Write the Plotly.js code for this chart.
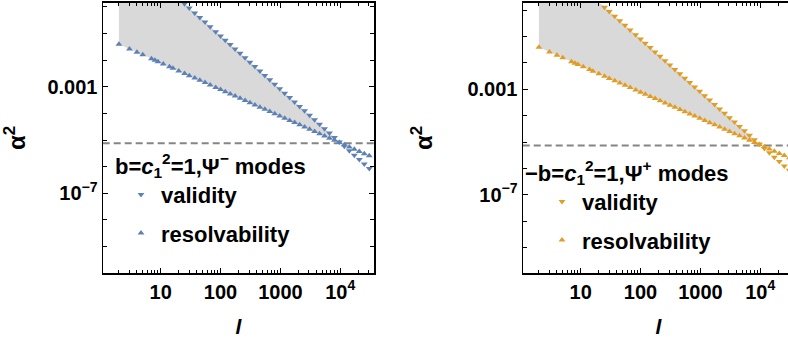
<!DOCTYPE html>
<html><head><meta charset="utf-8">
<script src="https://cdn.plot.ly/plotly-3.0.1.min.js"></script>
<style>html,body{margin:0;padding:0;overflow:hidden;background:#fff}</style>
</head><body><div id="chart" style="width:800px;height:341px"></div>
<script>
// ---- data ----
const ell = [2,3,4,5,7,8,9,11,14,16,20,25,30,37,45,55,67,83,100,120,145,175,212,257,310,375,455,550,665,805,975,1180,1430,1730,2100,2540,3080,3730,4520,5470,6620,8020,9700,11750,14230,17230,20870,25270,30600];
const ellValid = [25,30,37,45,55,67,83,100,120,145,175,212,257,310,375,455,550,665,805,975,1180,1430,1730,2100,2540,3080,3730,4520,5470,6620,8020,9700,11750,14230,17230,20870,25270,30600];

const resolvLeft = [3.89e-2,2.59e-2,1.95e-2,1.56e-2,1.11e-2,9.73e-3,8.65e-3,7.08e-3,5.56e-3,4.86e-3,3.89e-3,3.11e-3,2.59e-3,2.10e-3,1.73e-3,1.42e-3,1.16e-3,9.38e-4,7.78e-4,6.49e-4,5.37e-4,4.45e-4,3.67e-4,3.03e-4,2.51e-4,2.07e-4,1.71e-4,1.42e-4,1.17e-4,9.66e-5,7.98e-5,6.59e-5,5.44e-5,4.50e-5,3.71e-5,3.06e-5,2.52e-5,2.08e-5,1.72e-5,1.42e-5,1.17e-5,9.70e-6,8.02e-6,6.62e-6,5.47e-6,4.52e-6,3.73e-6,3.08e-6,2.54e-6];
const validLeft = [1.28,0.887,0.583,0.394,0.264,0.178,0.116,7.98e-2,5.55e-2,3.80e-2,2.61e-2,1.78e-2,1.21e-2,8.32e-3,5.68e-3,3.85e-3,2.64e-3,1.80e-3,1.23e-3,8.39e-4,5.73e-4,3.91e-4,2.67e-4,1.81e-4,1.24e-4,8.39e-5,5.73e-5,3.91e-5,2.67e-5,1.82e-5,1.24e-5,8.47e-6,5.78e-6,3.94e-6,2.69e-6,1.84e-6,1.25e-6,8.51e-7];

const resolvRight = [3.89e-2,2.59e-2,1.95e-2,1.56e-2,1.11e-2,9.73e-3,8.65e-3,7.08e-3,5.56e-3,4.86e-3,3.89e-3,3.11e-3,2.59e-3,2.10e-3,1.73e-3,1.42e-3,1.16e-3,9.38e-4,7.78e-4,6.49e-4,5.37e-4,4.45e-4,3.67e-4,3.03e-4,2.51e-4,2.07e-4,1.71e-4,1.42e-4,1.17e-4,9.66e-5,7.98e-5,6.59e-5,5.44e-5,4.50e-5,3.71e-5,3.06e-5,2.52e-5,2.08e-5,1.72e-5,1.42e-5,1.17e-5,9.70e-6,8.02e-6,6.62e-6,5.47e-6,4.52e-6,3.73e-6,3.08e-6,2.54e-6];
const validRight = [1.28,0.887,0.583,0.394,0.264,0.178,0.116,7.98e-2,5.55e-2,3.80e-2,2.61e-2,1.78e-2,1.21e-2,8.32e-3,5.68e-3,3.85e-3,2.64e-3,1.80e-3,1.23e-3,8.39e-4,5.73e-4,3.91e-4,2.67e-4,1.81e-4,1.24e-4,8.39e-5,5.73e-5,3.91e-5,2.67e-5,1.82e-5,1.24e-5,8.47e-6,5.78e-6,3.94e-6,2.69e-6,1.84e-6,1.25e-6,8.51e-7];

const threshold = 7.5e-6;   // dashed horizontal line
const seriesNames = ['validity', 'resolvability'];
const legendTitles = ['b=<i>c</i><sub>1</sub><sup>2</sup>=1,Ψ<sup>−</sup> modes', '−b=<i>c</i><sub>1</sub><sup>2</sup>=1,Ψ<sup>+</sup> modes'];
const xTitle = '<i>l</i>';
const yTitle = '\u00a0\u00a0\u00a0\u00a0α<sup>2</sup>';

const xTickVals = [10, 100, 1000, 10000];
const xTickText = ['10', '100', '1000', '10<sup>4</sup>'];
const xMinorVals = [2,3,4,5,6,7,8,9,20,30,40,50,60,70,80,90,200,300,400,500,600,700,800,900,2000,3000,4000,5000,6000,7000,8000,9000,20000,30000,40000];
const yTickVals = [1e-3, 1e-7];
const yTickText = ['0.001', '10<sup>−7</sup>'];
const yMinorVals = [1, 1e-1, 1e-2, 1e-4, 1e-5, 1e-6, 1e-8, 1e-9, 1e-10];

// ---- styling ----
const FONT = 'Liberation Sans, Arial, Helvetica, sans-serif';
const BLUE = '#5E81B5', ORANGE = '#E19C24', FILL = '#d9d9d9';
const W = 800, H = 341;
const xRange = [0.03, 4.57];
const yRangeLeft = [-10, 0.15];
const yRangeRight = [-9.97, 0.28];

function fillPolygon(resolv, valid, yTopLog) {
  const lg = Math.log10;
  const off = ell.indexOf(ellValid[0]);
  const s = (lg(valid[1]) - lg(valid[0])) / (lg(ellValid[1]) - lg(ellValid[0]));
  const xTop = lg(ellValid[0]) + (yTopLog - lg(valid[0])) / s;
  const xs = [ell[0], Math.pow(10, xTop)], ys = [Math.pow(10, yTopLog), Math.pow(10, yTopLog)];
  let crossIdx = -1;
  for (let i = 0; i < ellValid.length; i++) {
    const r = resolv[i + off];
    if (valid[i] >= r) { xs.push(ellValid[i]); ys.push(valid[i]); }
    else {
      const xa = lg(ellValid[i-1]), xb = lg(ellValid[i]);
      const da = lg(valid[i-1]) - lg(resolv[i-1+off]), db = lg(valid[i]) - lg(r);
      const t = da / (da - db);
      const xc = xa + t * (xb - xa);
      const yc = lg(resolv[i-1+off]) + t * (lg(r) - lg(resolv[i-1+off]));
      xs.push(Math.pow(10, xc)); ys.push(Math.pow(10, yc));
      crossIdx = i + off - 1;
      break;
    }
  }
  for (let j = crossIdx; j >= 0; j--) { xs.push(ell[j]); ys.push(resolv[j]); }
  return {xs, ys};
}

const fl = fillPolygon(resolvLeft, validLeft, yRangeLeft[1]);
const fr = fillPolygon(resolvRight, validRight, yRangeRight[1]);

const mk = (sym, color) => ({symbol: sym, size: 6, color: color, line: {width: 0}});

const traces = [
  {x: fl.xs, y: fl.ys, xaxis: 'x', yaxis: 'y', type: 'scatter', mode: 'lines', fill: 'toself', fillcolor: FILL, line: {width: 0}, showlegend: false, hoverinfo: 'skip'},
  {x: fr.xs, y: fr.ys, xaxis: 'x2', yaxis: 'y2', type: 'scatter', mode: 'lines', fill: 'toself', fillcolor: FILL, line: {width: 0}, showlegend: false, hoverinfo: 'skip'},
  {x: ellValid, y: validLeft, xaxis: 'x', yaxis: 'y', type: 'scatter', mode: 'markers', name: seriesNames[0], marker: mk('triangle-down', BLUE), legend: 'legend', legendgroup: 'a1'},
  {x: ell, y: resolvLeft, xaxis: 'x', yaxis: 'y', type: 'scatter', mode: 'markers', name: seriesNames[1], marker: mk('triangle-up', BLUE), legend: 'legend', legendgroup: 'a2'},
  {x: ellValid, y: validRight, xaxis: 'x2', yaxis: 'y2', type: 'scatter', mode: 'markers', name: seriesNames[0], marker: mk('triangle-down', ORANGE), legend: 'legend2', legendgroup: 'b1'},
  {x: ell, y: resolvRight, xaxis: 'x2', yaxis: 'y2', type: 'scatter', mode: 'markers', name: seriesNames[1], marker: mk('triangle-up', ORANGE), legend: 'legend2', legendgroup: 'b2'}
];

const tickFont = {family: FONT, size: 20, weight: 'bold', color: '#000'};
const xTitleFont = {family: FONT, size: 21, weight: 'bold', color: '#000'};
const yTitleFont = {family: FONT, size: 24, weight: 'bold', color: '#000'};
const legFont = {family: FONT, size: 22, weight: 'bold', color: '#000'};

function xAxis(domain, anchor) {
  return {type: 'log', domain: domain, anchor: anchor, range: xRange, tickmode: 'array', tickvals: xTickVals, ticktext: xTickText,
    ticks: 'inside', ticklen: 5, tickwidth: 1, tickcolor: '#000', showline: true, linecolor: '#000', linewidth: 1.2, mirror: 'ticks',
    showgrid: false, zeroline: false, tickfont: tickFont,
    minor: {tickmode: 'array', tickvals: xMinorVals, ticks: 'inside', ticklen: 3, tickwidth: 1, tickcolor: '#000', showgrid: false},
    title: {text: xTitle, font: xTitleFont, standoff: 17}};
}
function yAxis(domain, anchor, range) {
  return {type: 'log', domain: domain, anchor: anchor, range: range, tickmode: 'array', tickvals: yTickVals, ticktext: yTickText,
    ticks: 'inside', ticklen: 5, tickwidth: 1, tickcolor: '#000', showline: true, linecolor: '#000', linewidth: 1.2, mirror: 'ticks',
    showgrid: false, zeroline: false, tickfont: tickFont,
    minor: {tickmode: 'array', tickvals: yMinorVals, ticks: 'inside', ticklen: 4, tickwidth: 1, tickcolor: '#000', showgrid: false},
    title: {text: yTitle, font: yTitleFont, standoff: 28}};
}
const yDom = [(H - 273.3) / H, (H - 2.7) / H];

function legendCfg(x, y, title, indent) {
  return {x: x, y: y, xref: 'paper', yref: 'paper', xanchor: 'left', yanchor: 'top', bgcolor: 'rgba(0,0,0,0)', borderwidth: 0,
    font: legFont, traceorder: 'grouped', tracegroupgap: 7, indentation: indent,
    title: {text: title, side: 'top', font: legFont}};
}

const layout = {
  width: W, height: H, margin: {l: 0, r: 0, t: 0, b: 0},
  paper_bgcolor: '#fff', plot_bgcolor: '#fff', showlegend: true,
  xaxis: xAxis([102.7 / W, 374.3 / W], 'y'),
  yaxis: yAxis(yDom, 'x', yRangeLeft),
  xaxis2: xAxis([522.7 / W, 794.3 / W], 'y2'),
  yaxis2: yAxis(yDom, 'x2', yRangeRight),
  legend: legendCfg(113 / W, 1 - 145 / H, legendTitles[0], 8),
  legend2: legendCfg(523 / W, 1 - 152 / H, legendTitles[1], 19),
  shapes: [
    {type: 'line', xref: 'x domain', yref: 'y', x0: 0, x1: 1, y0: threshold, y1: threshold, layer: 'below', line: {color: '#858585', width: 2, dash: '7px,4px'}},
    {type: 'line', xref: 'x2 domain', yref: 'y2', x0: 0, x1: 1, y0: threshold, y1: threshold, layer: 'below', line: {color: '#858585', width: 2, dash: '7px,4px'}}
  ]
};

Plotly.newPlot('chart', traces, layout, {displayModeBar: false, staticPlot: true});
</script></body></html>
